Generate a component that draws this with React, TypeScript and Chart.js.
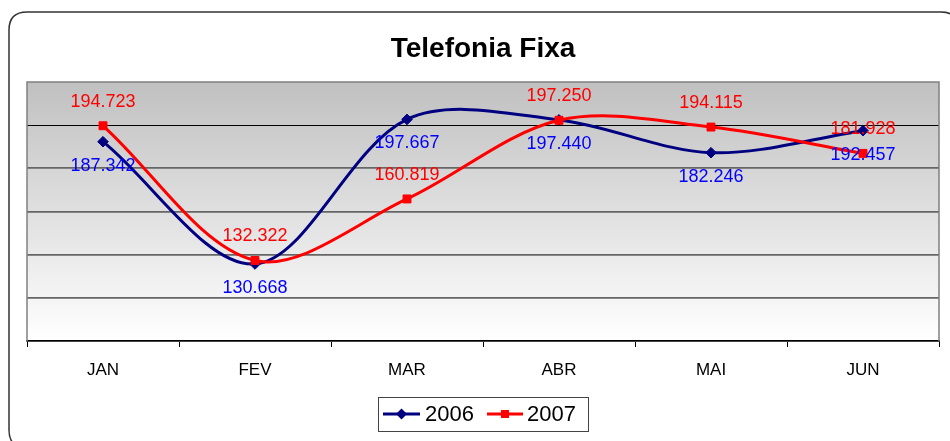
import React, { useEffect, useRef } from "react";
import { Chart, registerables } from "chart.js";

Chart.register(...registerables);

const categories = ["JAN", "FEV", "MAR", "ABR", "MAI", "JUN"];
const series2006 = [187.342, 130.668, 197.667, 197.44, 182.246, 192.457];
const series2007 = [194.723, 132.322, 160.819, 197.25, 194.115, 181.928];
const seriesNames = ["2006", "2007"];
const chartTitle = "Telefonia Fixa";
const yMin = 95;
const yMax = 215;
const yStep = 20;

const FONT = "'Liberation Sans', Arial, sans-serif";
const NAVY = "#000080";
const RED = "#ff0000";

function roundRect(ctx: CanvasRenderingContext2D, x: number, y: number, w: number, h: number, r: number) {
  ctx.beginPath();
  ctx.moveTo(x + r, y);
  ctx.lineTo(x + w - r, y);
  ctx.quadraticCurveTo(x + w, y, x + w, y + r);
  ctx.lineTo(x + w, y + h - r);
  ctx.quadraticCurveTo(x + w, y + h, x + w - r, y + h);
  ctx.lineTo(x + r, y + h);
  ctx.quadraticCurveTo(x, y + h, x, y + h - r);
  ctx.lineTo(x, y + r);
  ctx.quadraticCurveTo(x, y, x + r, y);
  ctx.closePath();
}

const backgroundPlugin = {
  id: "bgPlugin",
  beforeDraw(chart: any) {
    const ctx = chart.ctx as CanvasRenderingContext2D;
    const a = chart.chartArea;
    ctx.save();
    ctx.fillStyle = "#ffffff";
    ctx.fillRect(0, 0, chart.width, chart.height);
    roundRect(ctx, 9, 12, 950, 436, 18);
    ctx.lineWidth = 1.5;
    ctx.strokeStyle = "#333333";
    ctx.stroke();
    const g = ctx.createLinearGradient(0, a.top, 0, a.bottom);
    g.addColorStop(0, "#c0c0c0");
    g.addColorStop(1, "#ffffff");
    ctx.fillStyle = g;
    ctx.fillRect(a.left, a.top, a.right - a.left, a.bottom - a.top);
    ctx.restore();
  },
  beforeDatasetsDraw(chart: any) {
    const ctx = chart.ctx as CanvasRenderingContext2D;
    const a = chart.chartArea;
    ctx.save();
    ctx.strokeStyle = "#808080";
    ctx.lineWidth = 1.5;
    ctx.beginPath();
    ctx.moveTo(a.left, a.bottom);
    ctx.lineTo(a.left, a.top);
    ctx.lineTo(a.right, a.top);
    ctx.lineTo(a.right, a.bottom);
    ctx.stroke();
    ctx.restore();
  },
};

const labelPlugin = {
  id: "labelPlugin",
  afterDatasetsDraw(chart: any) {
    const ctx = chart.ctx as CanvasRenderingContext2D;
    ctx.save();
    ctx.font = `18px ${FONT}`;
    ctx.textAlign = "center";
    ctx.textBaseline = "middle";
    chart.data.datasets.forEach((ds: any, di: number) => {
      const meta = chart.getDatasetMeta(di);
      meta.data.forEach((pt: any, i: number) => {
        const v = ds.data[i] as number;
        const off = di === 0 ? 24 : -24;
        ctx.fillStyle = di === 0 ? "#0000ff" : RED;
        ctx.fillText(v.toFixed(3), pt.x, pt.y + off);
      });
    });
    ctx.restore();
  },
};

const legendPlugin = {
  id: "customLegend",
  afterDraw(chart: any) {
    const ctx = chart.ctx as CanvasRenderingContext2D;
    ctx.save();
    ctx.fillStyle = "#ffffff";
    ctx.fillRect(378.5, 397.5, 210, 34);
    ctx.strokeStyle = "#444444";
    ctx.lineWidth = 1;
    ctx.strokeRect(378.5, 397.5, 210, 34);
    const y = 414;
    const items = [
      { x0: 383, x1: 420, tx: 425, color: NAVY, style: "rectRot" },
      { x0: 487, x1: 523, tx: 527, color: RED, style: "rect" },
    ];
    items.forEach((it, i) => {
      ctx.strokeStyle = it.color;
      ctx.lineWidth = 3;
      ctx.beginPath();
      ctx.moveTo(it.x0, y);
      ctx.lineTo(it.x1, y);
      ctx.stroke();
      ctx.fillStyle = it.color;
      const cx = (it.x0 + it.x1) / 2;
      ctx.beginPath();
      if (it.style === "rectRot") {
        ctx.moveTo(cx, y - 5.5);
        ctx.lineTo(cx + 5.5, y);
        ctx.lineTo(cx, y + 5.5);
        ctx.lineTo(cx - 5.5, y);
        ctx.closePath();
      } else {
        ctx.rect(cx - 4, y - 4, 8, 8);
      }
      ctx.fill();
      ctx.fillStyle = "#000000";
      ctx.font = `22px ${FONT}`;
      ctx.textAlign = "left";
      ctx.textBaseline = "middle";
      ctx.fillText(seriesNames[i], it.tx, y + 1);
    });
    ctx.restore();
  },
};

export default function App() {
  const ref = useRef<HTMLCanvasElement | null>(null);
  useEffect(() => {
    if (!ref.current) return;
    const chart = new Chart(ref.current, {
      type: "line",
      data: {
        labels: categories,
        datasets: [
          {
            label: seriesNames[0],
            data: series2006,
            order: 1,
            borderColor: NAVY,
            backgroundColor: NAVY,
            borderWidth: 3,
            pointStyle: "rectRot",
            pointRadius: 5.3,
            pointBackgroundColor: NAVY,
            pointBorderColor: NAVY,
            pointBorderWidth: 1,
            tension: 0.33,
            fill: false,
          },
          {
            label: seriesNames[1],
            data: series2007,
            order: 0,
            borderColor: RED,
            backgroundColor: RED,
            borderWidth: 3,
            pointStyle: "rect",
            pointRadius: 5.6,
            pointBackgroundColor: RED,
            pointBorderColor: RED,
            pointBorderWidth: 1,
            tension: 0.33,
            fill: false,
          },
        ],
      },
      options: {
        responsive: false,
        animation: false,
        layout: { padding: { left: 27, right: 11, top: 0, bottom: 0 } },
        plugins: {
          legend: { display: false },
          tooltip: { enabled: false },
          title: {
            display: true,
            text: chartTitle,
            color: "#000000",
            font: { family: FONT, size: 28, weight: "bold", lineHeight: 1.2 },
            padding: { top: 32, bottom: 16.4 },
          },
        },
        scales: {
          x: {
            type: "category",
            offset: true,
            afterFit(scale: any) {
              scale.height = 100;
            },
            grid: {
              offset: true,
              drawOnChartArea: false,
              drawTicks: true,
              tickLength: 6,
              color: "#000000",
              lineWidth: 1,
            },
            border: { display: true, color: "#000000", width: 1.5 },
            ticks: {
              color: "#000000",
              font: { family: FONT, size: 17 },
              padding: 13,
              maxRotation: 0,
            },
          },
          y: {
            min: yMin,
            max: yMax,
            afterFit(scale: any) {
              scale.width = 0;
            },
            ticks: { display: false, stepSize: yStep },
            border: { display: false },
            grid: {
              drawTicks: false,
              color: (c: any) => {
                const v = c.tick ? c.tick.value : 0;
                if (v === yMax) return "rgba(0,0,0,0)";
                if (v === 195) return "#000000";
                return "#666666";
              },
              lineWidth: (c: any) => {
                const v = c.tick ? c.tick.value : 0;
                if (v === 195) return 1;
                return 1.8;
              },
            },
          },
        },
      },
      plugins: [backgroundPlugin, labelPlugin, legendPlugin],
    });
    return () => chart.destroy();
  }, []);
  return (
    <div style={{ position: "fixed", left: 0, top: 0, width: 950, height: 441 }}>
      <canvas ref={ref} width={950} height={441} />
    </div>
  );
}
